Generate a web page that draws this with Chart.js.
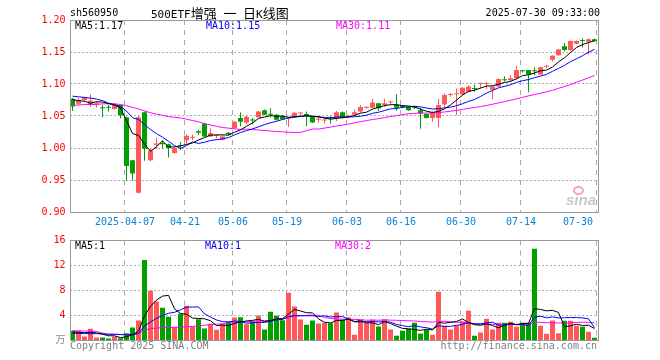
<!DOCTYPE html>
<html><head><meta charset="utf-8">
<script src="https://cdn.jsdelivr.net/npm/chart.js@4/dist/chart.umd.min.js"></script>
<style>
html,body{margin:0;padding:0;background:#fff;}
#wrap{position:relative;width:660px;height:360px;overflow:hidden;font-family:'DejaVu Sans Mono',monospace;font-size:10px;color:#000;}
#wrap canvas{position:absolute;left:0;}
.t{position:absolute;white-space:pre;line-height:12px;height:12px;}
.cjk{font-family:'Noto Sans CJK SC',sans-serif;font-size:13px;}
.lat{font-family:'DejaVu Sans Mono',monospace;font-size:11px;}
</style></head><body>
<div id="wrap">
<canvas id="pc" width="660" height="232" style="top:0px"></canvas>
<canvas id="vc" width="660" height="130" style="top:230px"></canvas>
<div class="t" style="left:70px;top:7px">sh560950</div>
<div class="t" style="left:151px;top:6px;line-height:14px;height:14px"><span class="lat">500ETF</span><span class="cjk">增强</span><span class="lat"> </span><span class="cjk">一</span><span class="lat"> </span><span class="cjk">日</span><span class="lat">K</span><span class="cjk">线图</span></div>
<div class="t" style="right:60px;top:7px">2025-07-30 09:33:00</div>
<div class="t" style="left:75px;top:20px;color:#000">MA5:1.17</div>
<div class="t" style="left:206px;top:20px;color:#0000ff">MA10:1.15</div>
<div class="t" style="left:336px;top:20px;color:#ff00ff">MA30:1.11</div>
<div class="t" style="left:75px;top:240px;color:#000">MA5:1</div>
<div class="t" style="left:205px;top:240px;color:#0000ff">MA10:1</div>
<div class="t" style="left:335px;top:240px;color:#ff00ff">MA30:2</div>
<div class="t" style="left:70px;top:340px;color:#808080">Copyright 2025 SINA.COM</div>
<div class="t" style="right:63px;top:340px;color:#808080">http://finance.sina.com.cn</div>
<div style="position:absolute;left:573px;top:186px;width:7px;height:5px;border:2px solid #f4a8a8;border-radius:50%"></div>
<div class="t" style="left:566px;top:191px;line-height:15px;height:15px;font:italic bold 15px 'Liberation Sans',sans-serif;color:#c8c8c8">sina</div>
</div>
<script>
const dates = [
'2025-03-24','2025-03-25','2025-03-26','2025-03-27','2025-03-28','2025-03-31',
'2025-04-01','2025-04-02','2025-04-03','2025-04-07','2025-04-08','2025-04-09','2025-04-10','2025-04-11',
'2025-04-14','2025-04-15','2025-04-16','2025-04-17','2025-04-18',
'2025-04-21','2025-04-22','2025-04-23','2025-04-24','2025-04-25',
'2025-04-28','2025-04-29','2025-04-30',
'2025-05-06','2025-05-07','2025-05-08','2025-05-09',
'2025-05-12','2025-05-13','2025-05-14','2025-05-15','2025-05-16',
'2025-05-19','2025-05-20','2025-05-21','2025-05-22','2025-05-23',
'2025-05-26','2025-05-27','2025-05-28','2025-05-29','2025-05-30',
'2025-06-03','2025-06-04','2025-06-05','2025-06-06',
'2025-06-09','2025-06-10','2025-06-11','2025-06-12','2025-06-13',
'2025-06-16','2025-06-17','2025-06-18','2025-06-19','2025-06-20',
'2025-06-23','2025-06-24','2025-06-25','2025-06-26','2025-06-27',
'2025-06-30','2025-07-01','2025-07-02','2025-07-03','2025-07-04',
'2025-07-07','2025-07-08','2025-07-09','2025-07-10','2025-07-11',
'2025-07-14','2025-07-15','2025-07-16','2025-07-17','2025-07-18',
'2025-07-21','2025-07-22','2025-07-23','2025-07-24','2025-07-25',
'2025-07-28','2025-07-29','2025-07-30'];

const opens = [1.077,1.069,1.075,1.068,1.069,1.063,1.064,1.061,1.067,1.048,
 0.981,0.930,1.056,0.981,1.005,1.008,1.006,0.992,1.004,1.012,
 1.016,1.026,1.038,1.018,1.019,1.013,1.024,1.031,1.047,1.040,
 1.044,1.048,1.059,1.053,1.052,1.050,1.046,1.048,1.054,1.053,
 1.049,1.044,1.043,1.047,1.046,1.056,1.048,1.052,1.057,1.063,
 1.063,1.070,1.067,1.071,1.068,1.066,1.064,1.064,1.059,1.053,
 1.047,1.047,1.068,1.083,1.084,1.084,1.088,1.093,1.100,1.100,
 1.091,1.096,1.107,1.106,1.109,1.121,1.122,1.121,1.115,1.127,
 1.138,1.145,1.159,1.153,1.163,1.168,1.166,1.170];
const highs = [1.078,1.078,1.080,1.084,1.073,1.067,1.067,1.069,1.068,1.049,
 0.981,1.050,1.057,1.000,1.016,1.012,1.007,1.001,1.009,1.021,
 1.021,1.028,1.040,1.031,1.021,1.021,1.025,1.042,1.056,1.050,
 1.047,1.058,1.060,1.062,1.053,1.051,1.048,1.056,1.056,1.057,
 1.050,1.049,1.048,1.050,1.058,1.057,1.052,1.060,1.067,1.065,
 1.077,1.070,1.077,1.074,1.084,1.067,1.065,1.066,1.063,1.054,
 1.057,1.077,1.085,1.086,1.093,1.095,1.098,1.099,1.102,1.103,
 1.096,1.109,1.112,1.114,1.128,1.122,1.122,1.126,1.127,1.130,
 1.145,1.155,1.164,1.168,1.168,1.171,1.171,1.171];
const lows = [1.058,1.067,1.073,1.064,1.063,1.048,1.057,1.060,1.046,0.949,
 0.949,0.929,0.980,0.979,0.999,0.999,0.985,0.991,0.997,1.007,
 1.012,1.020,1.017,1.017,1.015,1.012,1.020,1.030,1.034,1.037,
 1.037,1.047,1.051,1.048,1.043,1.044,1.033,1.047,1.051,1.034,
 1.039,1.040,1.038,1.038,1.042,1.046,1.047,1.050,1.055,1.061,
 1.062,1.058,1.064,1.068,1.058,1.062,1.058,1.061,1.030,1.046,
 1.041,1.032,1.063,1.080,1.051,1.083,1.087,1.088,1.093,1.092,
 1.076,1.095,1.104,1.104,1.107,1.118,1.087,1.114,1.114,1.125,
 1.135,1.144,1.151,1.152,1.162,1.157,1.146,1.166];
const closes = [1.065,1.075,1.078,1.074,1.070,1.062,1.063,1.067,1.051,0.972,
 0.960,1.048,0.999,0.996,1.007,1.006,1.000,1.000,1.003,1.019,
 1.017,1.024,1.018,1.023,1.020,1.018,1.021,1.041,1.041,1.049,
 1.043,1.057,1.052,1.052,1.044,1.045,1.047,1.055,1.055,1.050,
 1.040,1.045,1.044,1.046,1.056,1.047,1.049,1.056,1.064,1.064,
 1.071,1.062,1.070,1.072,1.063,1.064,1.059,1.063,1.054,1.047,
 1.055,1.067,1.083,1.084,1.085,1.094,1.096,1.092,1.101,1.101,
 1.096,1.108,1.106,1.109,1.122,1.120,1.115,1.120,1.126,1.128,
 1.144,1.154,1.153,1.167,1.167,1.167,1.170,1.167];
const volumes = [1.55,1.55,0.64,1.87,0.48,0.48,0.32,0.64,0.37,1.17,
 2.10,3.20,12.90,7.95,6.24,5.23,3.79,2.13,4.27,5.55,
 2.24,3.41,1.92,2.67,1.71,2.61,3.04,3.68,3.73,2.61,
 3.04,4.00,1.76,4.59,3.95,3.25,7.63,5.44,3.36,2.51,
 3.20,2.72,2.83,2.77,4.48,3.31,3.73,0.91,3.31,2.88,
 3.31,2.24,3.41,1.76,0.75,1.55,1.87,2.83,1.12,1.71,
 0.91,7.79,2.35,1.76,2.35,3.04,4.75,0.75,1.28,3.47,
 1.76,2.83,2.83,2.99,2.19,2.83,2.83,14.67,2.35,1.07,
 3.20,1.17,3.15,3.15,2.35,2.19,1.39,0.43];

// moving-average values at the left edge (history before the window)
const priceMa5Head = [1.0755,1.074,1.073,1.070];
const priceMa10Head = [1.081,1.080,1.079,1.078,1.0765,1.074,1.070,1.068,1.065];
const priceMa30Head = [1.067,1.067,1.068,1.068,1.068,1.069,1.069,1.069,1.068,1.066,
 1.0635,1.061,1.058,1.055,1.053,1.051,1.049,1.048,1.047,1.045,
 1.043,1.041,1.038,1.036,1.034,1.032,1.031,1.030,1.029];
const volMa5Head = [1.35,1.30,1.25,1.30];
const volMa10Head = [1.15,1.15,1.10,1.10,1.10,1.05,1.00,1.00,0.95];
const volMa30Head = [1.55,1.55,1.50,1.50,1.45,1.20,1.00,1.00,0.95,0.95,
 1.00,1.10,1.65,1.90,2.00,2.05,2.10,2.10,2.15,2.20,
 2.25,2.35,2.45,2.55,2.60,2.70,2.80,2.85,2.95];

const tickDates = ['2025-04-07','2025-04-21','2025-05-06','2025-05-19','2025-06-03','2025-06-16','2025-06-30','2025-07-14','2025-07-30'];
const tickTexts = ['2025-04-07','04-21','05-06','05-19','06-03','06-16','06-30','07-14','07-30'];
const priceTicks = [0.90,0.95,1.00,1.05,1.10,1.15,1.20];
const volTicks = [0,4,8,12,16];

function movingAvg(vals, n, head) {
  return vals.map((v, i) => {
    if (i < n - 1) return head[i];
    let s = 0;
    for (let j = i - n + 1; j <= i; j++) s += vals[j];
    return s / n;
  });
}

const RED = '#ff5858', GREEN = '#00a000';
const candleColors = dates.map((d, i) => closes[i] >= opens[i] ? RED : GREEN);
const tickIdx = tickDates.map(d => dates.indexOf(d));
const tickMap = {};
tickIdx.forEach((k, j) => { tickMap[k] = tickTexts[j]; });

const FONT = {family: "'DejaVu Sans Mono', 'Noto Sans CJK SC', monospace", size: 10};

const panelDeco = {
  id: 'panelDeco',
  beforeDatasetsDraw(chart) {
    const {ctx, chartArea: a, scales: {x}} = chart;
    const half = (x.getPixelForValue(1) - x.getPixelForValue(0)) / 2;
    ctx.save();
    ctx.strokeStyle = '#a8a8a8';
    ctx.lineWidth = 1;
    ctx.setLineDash([5, 5]);
    tickIdx.forEach((k, j) => {
      const raw = j === tickIdx.length - 1 ? x.getPixelForValue(k) + half - 1 : x.getPixelForValue(k) - half + 0.5;
      const px = Math.floor(raw) + 0.5;
      ctx.beginPath();
      ctx.moveTo(px, a.top);
      ctx.lineTo(px, a.bottom);
      ctx.stroke();
    });
    ctx.restore();
  },
  afterDraw(chart) {
    const {ctx, chartArea: a} = chart;
    ctx.save();
    ctx.strokeStyle = '#999';
    ctx.lineWidth = 1;
    const L = Math.ceil(a.left) + 0.5, R = Math.ceil(a.right) + 0.5;
    const T = Math.floor(a.top) + 0.5, B = Math.floor(a.bottom) + 0.5;
    ctx.strokeRect(L, T, R - L, B - T);
    ctx.restore();
  }
};

function lineDs(data, color) {
  return {type: 'line', data, borderColor: color, borderWidth: 1, pointRadius: 0, tension: 0, fill: false, order: 0};
}

const commonOpts = {
  responsive: false, animation: false, devicePixelRatio: 1, events: [],
  plugins: {legend: {display: false}, tooltip: {enabled: false}},
  datasets: {bar: {grouped: false, borderWidth: 0, inflateAmount: 0, borderSkipped: false}}
};

new Chart(document.getElementById('pc'), {
  type: 'bar',
  data: {
    labels: dates,
    datasets: [
      lineDs(movingAvg(closes, 5, priceMa5Head), '#000000'),
      lineDs(movingAvg(closes, 10, priceMa10Head), '#0000ff'),
      lineDs(movingAvg(closes, 30, priceMa30Head), '#ff00ff'),
      {data: dates.map((d, i) => [lows[i], highs[i]]), backgroundColor: candleColors, barThickness: 1, order: 2},
      {data: dates.map((d, i) => [opens[i], closes[i]]), backgroundColor: candleColors, barThickness: 5, minBarLength: 1, order: 1}
    ]
  },
  options: Object.assign({}, commonOpts, {
    layout: {padding: {left: 0, right: 62.5, top: 20, bottom: 0}},
    scales: {
      x: {
        offset: true,
        grid: {display: false, drawTicks: false, tickLength: 0}, border: {display: false},
        ticks: {autoSkip: false, maxRotation: 0, minRotation: 0, align: 'inner', labelOffset: -1.5, padding: 4,
          color: '#0a84d8', font: FONT, callback: (v, i) => tickMap[i] || ''},
        afterFit: s => { s.height = 20; }
      },
      y: {
        min: priceTicks[0], max: priceTicks[priceTicks.length - 1],
        afterBuildTicks: s => { s.ticks = priceTicks.map(v => ({value: v})); },
        ticks: {padding: 4, color: '#ff0000', font: FONT, callback: v => Number(v).toFixed(2)},
        grid: {drawTicks: false, color: c => (c.index > 0 && c.index < priceTicks.length - 1) ? '#b0b0b0' : 'rgba(0,0,0,0)'},
        border: {display: false, dash: [2, 2]},
        afterFit: s => { s.width = 69.5; }
      }
    }
  }),
  plugins: [panelDeco]
});

new Chart(document.getElementById('vc'), {
  type: 'bar',
  data: {
    labels: dates,
    datasets: [
      lineDs(movingAvg(volumes, 5, volMa5Head), '#000000'),
      lineDs(movingAvg(volumes, 10, volMa10Head), '#0000ff'),
      lineDs(movingAvg(volumes, 30, volMa30Head), '#ff00ff'),
      {data: volumes, backgroundColor: candleColors, barThickness: 5, order: 1}
    ]
  },
  options: Object.assign({}, commonOpts, {
    layout: {padding: {left: 0, right: 62.5, top: 10.5, bottom: 19.5}},
    scales: {
      x: {offset: true, display: false},
      y: {
        min: volTicks[0], max: volTicks[volTicks.length - 1],
        afterBuildTicks: s => { s.ticks = volTicks.map(v => ({value: v})); },
        ticks: {padding: 4, font: FONT, color: c => c.tick && c.tick.value === 0 ? '#888888' : '#ff0000',
          callback: v => v === 0 ? '万' : String(v)},
        grid: {drawTicks: false, color: c => (c.index > 0 && c.index < volTicks.length - 1) ? '#b0b0b0' : 'rgba(0,0,0,0)'},
        border: {display: false, dash: [2, 2]},
        afterFit: s => { s.width = 69.5; }
      }
    }
  }),
  plugins: [panelDeco]
});
</script>
</body></html>
